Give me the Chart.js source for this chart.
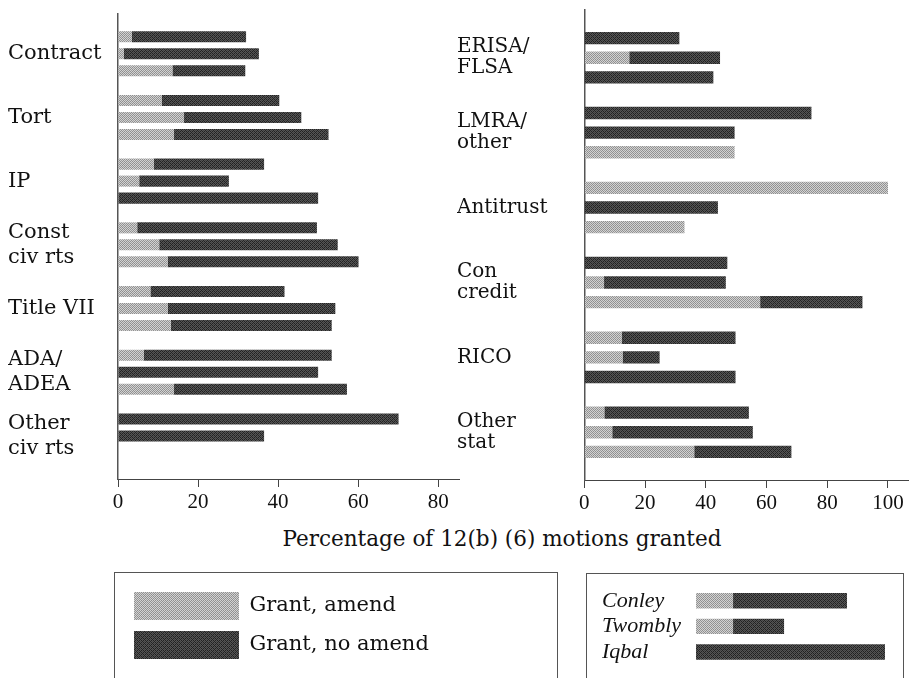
<!DOCTYPE html>
<meta charset="UTF-8">
<style>
  body { margin: 0; background: #fff; }
  #wrap { position: relative; width: 917px; height: 678px; overflow: hidden; background: #fff; }
  canvas { position: absolute; }
  #xtitle { position: absolute; left: 502px; top: 526px; transform: translateX(-50%);
    font: 21.5px "DejaVu Serif"; line-height: 26px; color: #111; white-space: nowrap; }
  .box { position: absolute; border: 1px solid #555; border-bottom: none; }
</style>

<div id="wrap">
  <canvas id="leftChart" width="470" height="520" style="left:0;top:0"></canvas>
  <canvas id="rightChart" width="472" height="520" style="left:445px;top:0"></canvas>
  <div id="xtitle">Percentage of 12(b) (6) motions granted</div>
  <div class="box" style="left:114px;top:572px;width:442px;height:120px"></div>
  <div class="box" style="left:586px;top:573px;width:316px;height:120px"></div>
  <canvas id="legendLeft" width="440" height="105" style="left:115px;top:573px"></canvas>
  <canvas id="legendRight" width="315" height="104" style="left:587px;top:574px"></canvas>
</div>

<script src="https://cdn.jsdelivr.net/npm/chart.js@4.4.0/dist/chart.umd.min.js"></script>

<script>
  // categories
  const leftCategories = [['Contract'], ['Tort'], ['IP'], ['Const', 'civ rts'], ['Title VII'], ['ADA/', 'ADEA'], ['Other', 'civ rts']];
  const rightCategories = [['ERISA/', 'FLSA'], ['LMRA/', 'other'], ['Antitrust'], ['Con', 'credit'], ['RICO'], ['Other', 'stat']];

  // % granted with leave to amend / without leave to amend
  const leftConleyAmend    = [3.5, 10.9, 9.0, 4.8, 8.1, 6.5, 0];
  const leftConleyNoAmend  = [28.5, 29.4, 27.5, 44.9, 33.5, 46.9, 70.1];
  const leftTwomblyAmend   = [1.5, 16.5, 5.3, 10.3, 12.4, 0, 0];
  const leftTwomblyNoAmend = [33.7, 29.3, 22.4, 44.6, 41.9, 50.0, 36.5];
  const leftIqbalAmend     = [13.6, 14.0, 0, 12.4, 13.2, 14.0, null];
  const leftIqbalNoAmend   = [18.2, 38.6, 50.0, 47.7, 40.2, 43.2, null];

  const rightConleyAmend    = [0, 0, 100, 0, 12.3, 6.6];
  const rightConleyNoAmend  = [31.3, 74.8, 0, 47.1, 37.5, 47.6];
  const rightTwomblyAmend   = [14.8, 0, 0, 6.5, 12.6, 9.2];
  const rightTwomblyNoAmend = [29.9, 49.5, 44.0, 40.1, 12.2, 46.3];
  const rightIqbalAmend     = [0, 49.5, 33.0, 57.9, 0, 36.2];
  const rightIqbalNoAmend   = [42.5, 0, 0, 33.7, 49.8, 32.0];

  const xTicks = [0, 20, 40, 60, 80, 100];

  // key chart (schematic)
  const keyLabels = ['Conley', 'Twombly', 'Iqbal'];
  const keyAmend = [19.6, 19.6, 0];
  const keyNoAmend = [60.3, 27.0, 100];

  function dither(c1, c2) {
    const c = document.createElement('canvas');
    c.width = 4; c.height = 4;
    const g = c.getContext('2d');
    g.fillStyle = c1; g.fillRect(0, 0, 4, 4);
    g.fillStyle = c2;
    [[0,0],[2,0],[1,1],[3,1],[0,2],[2,2],[1,3],[3,3]].forEach(p => g.fillRect(p[0], p[1], 1, 1));
    g.fillStyle = '#ffffff22';
    g.fillRect(1, 0, 1, 1); g.fillRect(3, 2, 1, 1);
    return g.createPattern(c, 'repeat');
  }
  const lightFill = dither('#8f8f8f', '#d2d2d2');
  const darkFill = dither('#222222', '#555555');

  Chart.defaults.animation = false;
  Chart.defaults.color = '#111';

  function panelDatasets(ca, cn, ta, tn, ia, inn) {
    const idx = v => v.map((x, i) => ({x: x, y: i}));
    return [
      {data: idx(ca), stack: 'conley', backgroundColor: lightFill},
      {data: idx(cn), stack: 'conley', backgroundColor: darkFill},
      {data: idx(ta), stack: 'twombly', backgroundColor: lightFill},
      {data: idx(tn), stack: 'twombly', backgroundColor: darkFill},
      {data: idx(ia), stack: 'iqbal', backgroundColor: lightFill},
      {data: idx(inn), stack: 'iqbal', backgroundColor: darkFill},
    ];
  }

  function panelConfig(cats, datasets, o) {
    return {
      type: 'bar',
      data: {datasets: datasets},
      options: {
        responsive: false,
        indexAxis: 'y',
        categoryPercentage: o.cp,
        barPercentage: o.bp,
        layout: {padding: {left: o.padLeft, right: o.padRight, top: o.top, bottom: 0}},
        plugins: {legend: {display: false}, tooltip: {enabled: false}},
        scales: {
          x: {
            type: 'linear',
            stacked: true,
            min: 0,
            max: o.xmax,
            grid: {drawOnChartArea: false, drawTicks: true, tickLength: 8, color: '#444'},
            border: {display: true, color: '#444', width: 1},
            ticks: {
              stepSize: 20,
              includeBounds: false,
              padding: 3,
              color: '#111',
              font: {family: 'Liberation Serif', size: 21},
              callback: v => xTicks.includes(v) ? String(v) : ''
            },
            afterFit: s => { s.height = o.xh; }
          },
          y: {
            type: 'linear',
            stacked: true,
            reverse: true,
            offset: false,
            min: o.ymin,
            max: o.ymax,
            grid: {display: false, offset: false},
            border: {display: true, color: '#555', width: 1.5},
            ticks: {
              stepSize: 1,
              includeBounds: false,
              autoSkip: false,
              crossAlign: 'far',
              padding: 0,
              color: '#111',
              font: {family: 'DejaVu Serif', size: o.fs, lineHeight: o.lh},
              callback: v => cats[v] || ''
            },
            afterFit: s => { s.width = o.yw; s.paddingTop = 0; s.paddingBottom = 0; }
          }
        }
      }
    };
  }

  new Chart(document.getElementById('leftChart'), panelConfig(leftCategories,
    panelDatasets(leftConleyAmend, leftConleyNoAmend, leftTwomblyAmend, leftTwomblyNoAmend, leftIqbalAmend, leftIqbalNoAmend),
    {cp: 0.80, bp: 0.65, padLeft: 8, padRight: 11, top: 14, xmax: 85.2, xh: 41, ymin: -0.623, ymax: 6.675, yw: 110, fs: 21, lh: 1.2}));

  new Chart(document.getElementById('rightChart'), panelConfig(rightCategories,
    panelDatasets(rightConleyAmend, rightConleyNoAmend, rightTwomblyAmend, rightTwomblyNoAmend, rightIqbalAmend, rightIqbalNoAmend),
    {cp: 0.785, bp: 0.63, padLeft: 12, padRight: 9, top: 10, xmax: 106.6, xh: 40, ymin: -0.637, ymax: 5.637, yw: 127.3, fs: 20, lh: 1.05}));

  // legend: fill meaning
  new Chart(document.getElementById('legendLeft'), {
    type: 'bar',
    data: {
      labels: [],
      datasets: [
        {label: 'Grant, amend', data: [], backgroundColor: lightFill, borderWidth: 0},
        {label: 'Grant, no amend', data: [], backgroundColor: darkFill, borderWidth: 0}
      ]
    },
    options: {
      responsive: false,
      layout: {padding: {left: 8, top: 8}},
      scales: {x: {display: false}, y: {display: false}},
      plugins: {
        tooltip: {enabled: false},
        legend: {
          position: 'top',
          align: 'start',
          maxWidth: 300,
          maxHeight: 100,
          labels: {
            boxWidth: 105,
            boxHeight: 28,
            padding: 11,
            color: '#111',
            font: {family: 'DejaVu Serif', size: 21}
          }
        }
      }
    }
  });

  // legend: which bar is which period
  new Chart(document.getElementById('legendRight'), {
    type: 'bar',
    data: {
      labels: keyLabels,
      datasets: [
        {data: keyAmend, stack: 'k', backgroundColor: lightFill},
        {data: keyNoAmend, stack: 'k', backgroundColor: darkFill}
      ]
    },
    options: {
      responsive: false,
      indexAxis: 'y',
      categoryPercentage: 1,
      barPercentage: 0.6,
      layout: {padding: {left: 15, right: 17, top: 14, bottom: 13}},
      plugins: {legend: {display: false}, tooltip: {enabled: false}},
      scales: {
        x: {stacked: true, min: 0, max: 100, display: false},
        y: {
          stacked: true,
          grid: {display: false},
          border: {display: false},
          ticks: {
            autoSkip: false,
            crossAlign: 'far',
            padding: 0,
            color: '#111',
            font: {family: 'Liberation Serif', size: 22, style: 'italic'}
          },
          afterFit: s => { s.width = 94; }
        }
      }
    }
  });
</script>
